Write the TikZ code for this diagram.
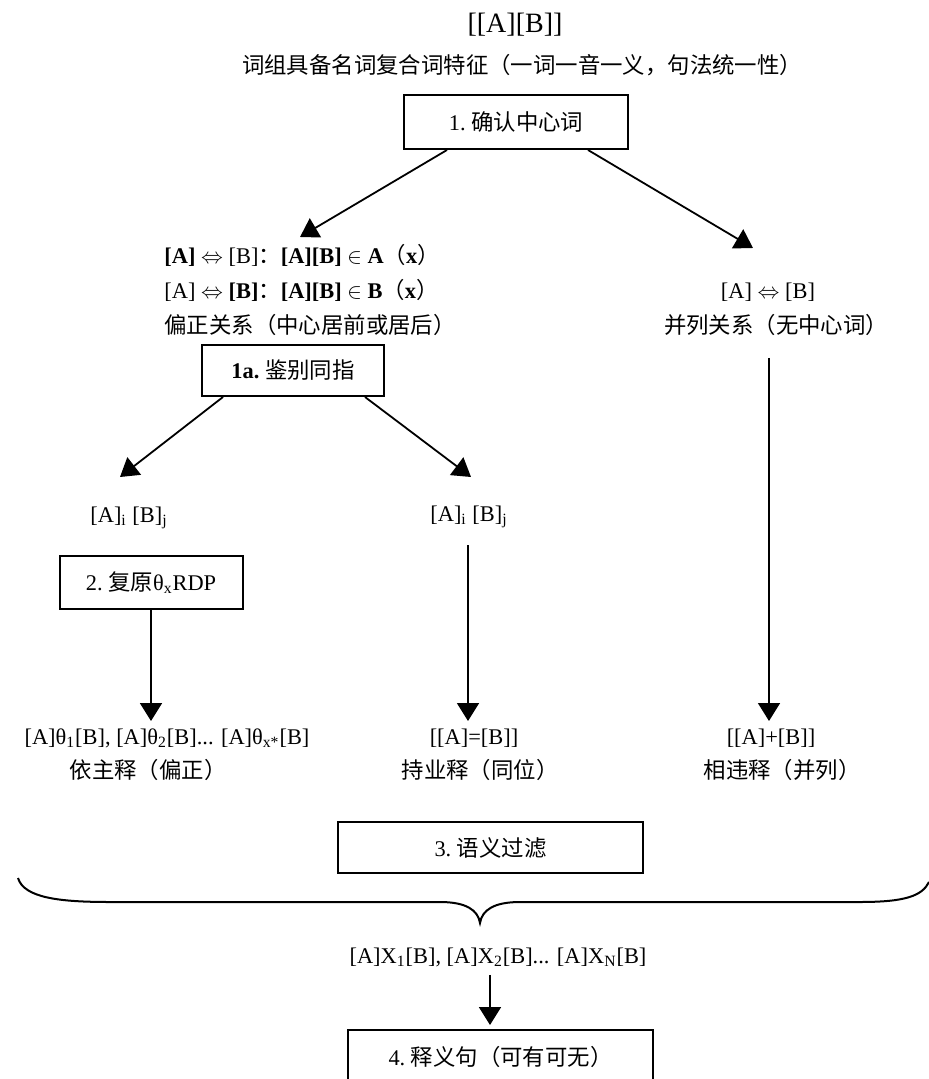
\documentclass[tikz,border=0pt]{standalone}
\usepackage{fontspec}
\setmainfont{Liberation Serif}
\newfontfamily\cjk{Noto Sans CJK SC}
\usetikzlibrary{arrows.meta, positioning}
\tikzset{
    stepbox/.style={draw, line width=1pt, rectangle, inner sep=0pt},
    flow/.style={line width=0.9pt, -{Triangle[length=9pt, width=11pt]}},
    lbl/.style={inner sep=1pt}
}

\begin{document}
\begin{tikzpicture}[x=0.5pt, y=-0.5pt]
    \tikzstyle{every node}=[font=\fontsize{11.2}{13}\selectfont];
    \useasboundingbox (0,0) rectangle (929,1079);
    % head
    \node[lbl, font=\fontsize{14}{16}\selectfont] (word) at (515,25) {[[A][B]]};
    \node[lbl] (feat) at (522,65) {\cjk 词组具备名词复合词特征（一词一音一义，句法统一性）};
    \node[stepbox, minimum width=112pt, minimum height=27pt] (s1) at (516,122) {1.\ {\cjk 确认中心词}};
    % left branch
    \node[lbl, anchor=west] (relA) at (162,255) {\textbf{[A]} $\Leftrightarrow$ [B]{\cjk ：}\textbf{[A][B]} $\in$ \textbf{A}{\cjk （}\textbf{x}{\cjk ）}};
    \node[lbl, anchor=west] (relB) at (162,290) {[A] $\Leftrightarrow$ \textbf{[B]}{\cjk ：}\textbf{[A][B]} $\in$ \textbf{B}{\cjk （}\textbf{x}{\cjk ）}};
    \node[lbl, anchor=west] (relC) at (162,325) {\cjk 偏正关系（中心居前或居后）};
    \node[stepbox, minimum width=91pt, minimum height=25.5pt] (s1a) at (293,370.5) {\textbf{1a.}\ {\cjk 鉴别同指}};
    \node[lbl] (idxL) at (129,518) {[A]\textsubscript{i} [B]\textsubscript{j}};
    \node[lbl] (idxR) at (469,517) {[A]\textsubscript{i} [B]\textsubscript{j}};
    \node[stepbox, minimum width=91.5pt, minimum height=26.5pt] (s2) at (151,582.5) {2.\ {\cjk 复原}θ\textsubscript{x}RDP};
    \node[lbl] (thAB) at (167,738) {[A]θ\textsubscript{1}[B], [A]θ\textsubscript{2}[B]... [A]θ\textsubscript{x*}[B]};
    \node[lbl] (yizhu) at (148,770) {\cjk 依主释（偏正）};
    \node[lbl] (eqAB) at (474,738) {[[A]=[B]]};
    \node[lbl] (chiye) at (480,770) {\cjk 持业释（同位）};
    % right branch
    \node[lbl] (parA) at (768,292) {[A] $\Leftrightarrow$ [B]};
    \node[lbl] (parB) at (776,325) {\cjk 并列关系（无中心词）};
    \node[lbl] (plusAB) at (771,738) {[[A]+[B]]};
    \node[lbl] (xiangwei) at (782,770) {\cjk 相违释（并列）};
    % filter
    \node[stepbox, minimum width=152.5pt, minimum height=25.5pt] (s3) at (490.5,847.5) {3.\ {\cjk 语义过滤}};
    \node[lbl] (xAB) at (498,957) {[A]X\textsubscript{1}[B], [A]X\textsubscript{2}[B]... [A]X\textsubscript{N}[B]};
    \node[stepbox, minimum width=152.5pt, minimum height=27pt] (s4) at (500.5,1057) {4.\ {\cjk 释义句（可有可无）}};
    % arrows
    \coordinate (tipL) at (300,237);
    \coordinate (tipR) at (753,248);
    \coordinate (tipLL) at (120,477);
    \coordinate (tipLR) at (471,477);
    \draw[flow] ([xshift=-34.5pt]s1.south) -- (tipL);
    \draw[flow] ([xshift=36pt]s1.south) -- (tipR);
    \draw[flow] ([xshift=-35pt]s1a.south) -- (tipLL);
    \draw[flow] ([xshift=36pt]s1a.south) -- (tipLR);
    \draw[flow] (s2.south) -- (s2.south |- 0,721);
    \draw[flow] (468,545) -- (468,721);
    \draw[flow] (769,358) -- (769,721);
    \draw[flow] ([yshift=-3pt]xAB.south -| 490,0) -- (490,1025);
    % brace
    \draw[line width=1pt] (18,878) .. controls (24,898) and (60,902) .. (110,902) -- (440,902)
        .. controls (466,902) and (478,910) .. (480,923)
        .. controls (482,910) and (494,902) .. (520,902) -- (860,902)
        .. controls (905,902) and (922,896) .. (929,882);
\end{tikzpicture}
\end{document}
